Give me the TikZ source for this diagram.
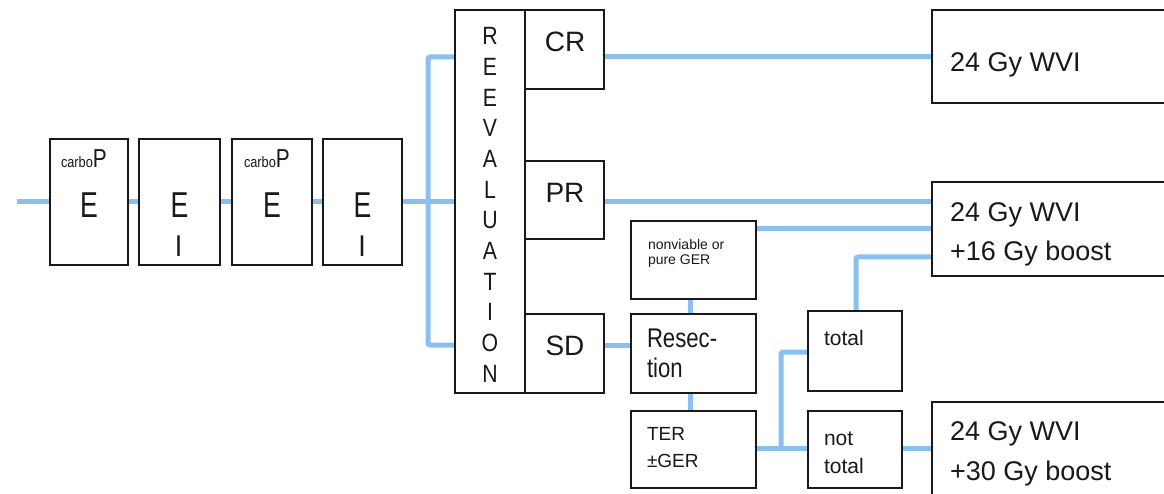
\documentclass[tikz,border=0pt]{standalone}
\usepackage{fontspec}
\setmainfont{Liberation Sans}
\definecolor{lblue}{RGB}{138,192,240}
\definecolor{ink}{RGB}{25,25,25}
\newcommand{\fs}[1]{\fontsize{#1}{#1}\selectfont}
\newcommand{\cond}[2][0.74]{\scalebox{#1}[1]{#2}}
\tikzset{
  box/.style={draw=ink, line width=1.8pt, fill=white, inner sep=0pt, outer sep=0pt},
  conn/.style={draw=lblue, line width=5pt, line join=round, rounded corners=2pt},
  txt/.style={text=ink, inner sep=0pt, outer sep=0pt}
}
\begin{document}
\begin{tikzpicture}[x=1pt,y=-1pt]
\useasboundingbox (0,0) rectangle (1164,494);
\clip (0,0) rectangle (1164,494);
% boxes
\node[box, minimum width=78pt, minimum height=126pt] (b1) at (89,202) {};
\node[box, minimum width=81pt, minimum height=126pt] (b2) at (179.5,202) {};
\node[box, minimum width=80pt, minimum height=126pt] (b3) at (272,202) {};
\node[box, minimum width=79pt, minimum height=126pt] (b4) at (362.5,202) {};
\node[box, minimum width=70pt, minimum height=383pt] (reev) at (490,201.5) {};
\node[box, minimum width=79pt, minimum height=79pt] (cr) at (564.5,49.5) {};
\node[box, minimum width=79pt, minimum height=78pt] (pr) at (564.5,200) {};
\node[box, minimum width=79pt, minimum height=79pt] (sd) at (564.5,353.5) {};
\node[box, minimum width=125pt, minimum height=78pt] (nonv) at (693.5,260) {};
\node[box, minimum width=125pt, minimum height=79pt] (resec) at (693.5,353.5) {};
\node[box, minimum width=125pt, minimum height=77pt] (ter) at (693.5,449.5) {};
\node[box, minimum width=94pt, minimum height=80pt] (total) at (855,351) {};
\node[box, minimum width=94pt, minimum height=77pt] (nottot) at (855,449.5) {};
\node[box, minimum width=268pt, minimum height=93pt] (ra) at (1066,56.5) {};
\node[box, minimum width=268pt, minimum height=94pt] (rb) at (1066,229) {};
\node[box, minimum width=268pt, minimum height=118pt] (rc) at (1066,461) {};
% connectors
\coordinate (start) at (17,202);
\coordinate (jn) at (428,202);
\coordinate (br) at (781,448);
\draw[conn] (start) -- (b1.west);
\draw[conn] (b1.east) -- (b2.west);
\draw[conn] (b2.east) -- (b3.west);
\draw[conn] (b3.east) -- (b4.west);
\draw[conn] (b4.east) -- (jn);
\draw[conn] (reev.west |- 0,57) -- (jn |- 0,57) -- (jn |- 0,345) -- (reev.west |- 0,345);
\draw[conn] (jn) -- (reev.west |- jn);
\draw[conn] (cr.east |- 0,57) -- (ra.west |- 0,57);
\draw[conn] (pr.east |- 0,202) -- (rb.west |- 0,202);
\draw[conn] (nonv.east |- 0,229) -- (rb.west |- 0,229);
\draw[conn] (sd.east |- 0,345) -- (resec.west |- 0,345);
\draw[conn] (nonv.south -| 690,0) -- (resec.north -| 690,0);
\draw[conn] (resec.south -| 690,0) -- (ter.north -| 690,0);
\draw[conn] (ter.east |- br) -- (nottot.west |- br);
\draw[conn] (br) -- (br |- 0,352) -- (total.west |- 0,352);
\draw[conn] (total.north -| 856,0) -- (856,257) -- (rb.west |- 0,257);
\draw[conn] (nottot.east |- br) -- (rc.west |- br);
% redraw box outlines on top
\foreach \n in {b1,b2,b3,b4,reev,cr,pr,sd,nonv,resec,ter,total,nottot,ra,rb,rc}{
  \draw[draw=ink, line width=1.8pt] (\n.north west) rectangle (\n.south east);
}
% texts
\node[txt, anchor=base west] (t1p) at (61,168) {\cond[0.85]{\fs{15}carbo}\cond[0.8]{\fs{26}P}};
\node[txt, anchor=base] (t1e) at (89,218) {\cond{\fs{36}E}};
\node[txt, anchor=base] (t2e) at (179.5,218) {\cond{\fs{36}E}};
\node[txt, anchor=base] (t2i) at (178.5,257) {\cond[0.9]{\fs{30}I}};
\node[txt, anchor=base west] (t3p) at (244,168) {\cond[0.85]{\fs{15}carbo}\cond[0.8]{\fs{26}P}};
\node[txt, anchor=base] (t3e) at (272,218) {\cond{\fs{36}E}};
\node[txt, anchor=base] (t4e) at (362.5,218) {\cond{\fs{36}E}};
\node[txt, anchor=base] (t4i) at (362,257) {\cond[0.9]{\fs{30}I}};
\foreach \L [count=\i] in {R,E,E,V,A,L,U,A,T,I,O,N}{
  \node[txt, anchor=base] (rl\i) at (490,{45+(\i-1)*30.64}) {\cond[0.85]{\fs{25}\L}};
}
\node[txt, anchor=base] (tcr) at (565,52) {\fs{28}CR};
\node[txt, anchor=base] (tpr) at (565,203) {\fs{28}PR};
\node[txt, anchor=base] (tsd) at (565,355) {\fs{28}SD};
\node[txt, anchor=base west] (tnv1) at (648,250) {\fs{14}nonviable or};
\node[txt, anchor=base west] (tnv2) at (648,265) {\fs{14}pure GER};
\node[txt, anchor=base west] (tre1) at (647,347) {\cond[0.82]{\fs{27}Resec-}};
\node[txt, anchor=base west] (tre2) at (647,377) {\cond[0.82]{\fs{27}tion}};
\node[txt, anchor=base west] (tte1) at (647,440) {\fs{19}TER};
\node[txt, anchor=base west] (tte2) at (647,467) {\fs{19}±GER};
\node[txt, anchor=base west] (tto) at (824,345) {\fs{21}total};
\node[txt, anchor=base west] (tnt1) at (824,445) {\fs{21}not};
\node[txt, anchor=base west] (tnt2) at (824,473) {\fs{21}total};
\node[txt, anchor=base west] (ta1) at (950,72) {\fs{27}24 Gy WVI};
\node[txt, anchor=base west] (tb1) at (950,222) {\fs{27}24 Gy WVI};
\node[txt, anchor=base west] (tb2) at (950,261) {\fs{27}+16 Gy boost};
\node[txt, anchor=base west] (tc1) at (950,440) {\fs{27}24 Gy WVI};
\node[txt, anchor=base west] (tc2) at (950,480) {\fs{27}+30 Gy boost};
\end{tikzpicture}
\end{document}
